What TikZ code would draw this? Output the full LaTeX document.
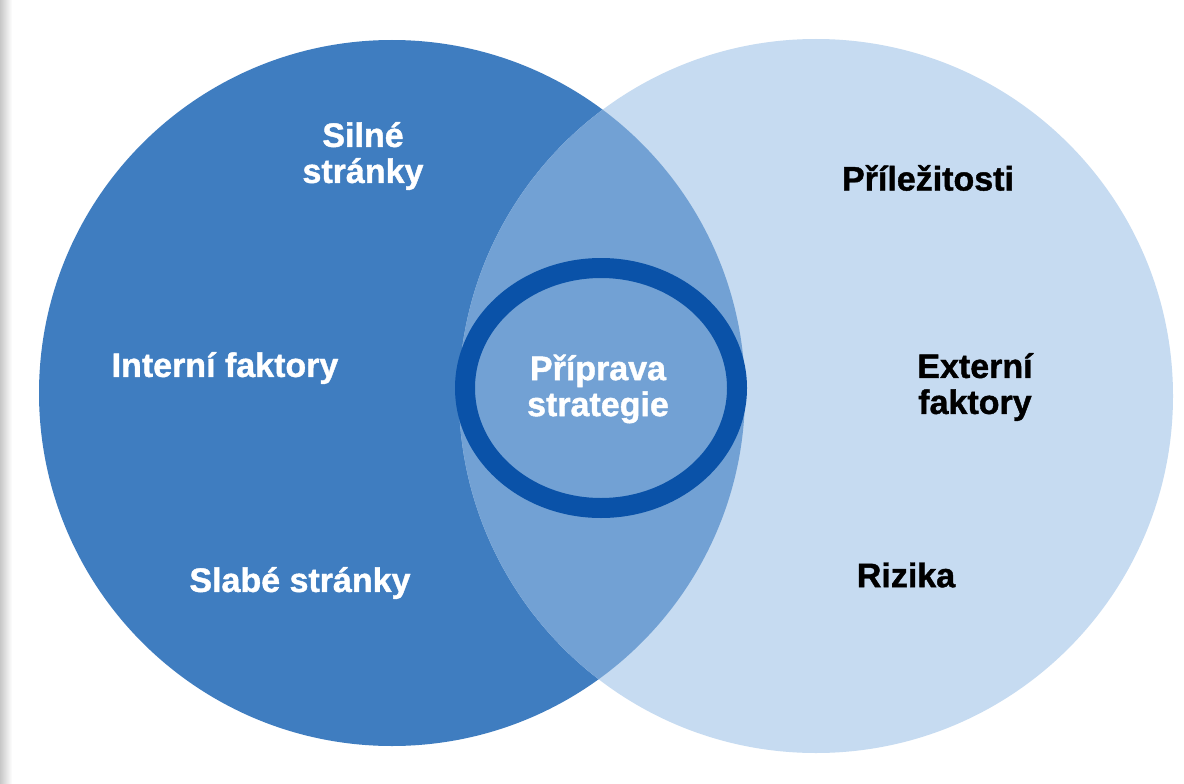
\documentclass[tikz,border=0pt]{standalone}
\usepackage{fontspec}
\setmainfont{Liberation Sans}
\newfontfamily\heavyfont[FakeBold=1.2]{Liberation Sans Bold}
\definecolor{darkblue}{HTML}{3F7DC0}
\definecolor{midblue}{HTML}{72A1D4}
\definecolor{lightblue}{HTML}{C6DBF1}
\definecolor{ringblue}{HTML}{0A52A8}
\begin{document}
\begin{tikzpicture}[x=1pt,y=-1pt,
  lbl/.style={font=\fontsize{34}{36}\heavyfont, align=center, inner sep=0pt},
  wlbl/.style={lbl, text=white},
  blbl/.style={lbl, text=black}]
\useasboundingbox (0,0) rectangle (1184,784);
\fill[white] (0,0) rectangle (1184,784);
\shade[left color=black!22, right color=white] (0,0) rectangle (12,784);
% circles
\fill[darkblue] (392,393) circle (353);
\fill[lightblue] (816,396) circle (357);
\begin{scope}
  \clip (392,393) circle (353);
  \fill[midblue] (816,396) circle (357);
\end{scope}
% ring
\draw[ringblue, line width=20pt] (601,388) ellipse (136 and 120);
% labels
\node[wlbl] (silne) at (363,156) {Silné\\stránky};
\node[wlbl] (interni) at (225,368) {Interní faktory};
\node[wlbl] (slabe) at (300,583) {Slabé stránky};
\node[wlbl] (priprava) at (598,389) {Příprava\\strategie};
\node[blbl] (prilez) at (928,178) {Příležitosti};
\node[blbl] (externi) at (975,387) {Externí\\faktory};
\node[blbl] (rizika) at (906,575) {Rizika};
\end{tikzpicture}
\end{document}
